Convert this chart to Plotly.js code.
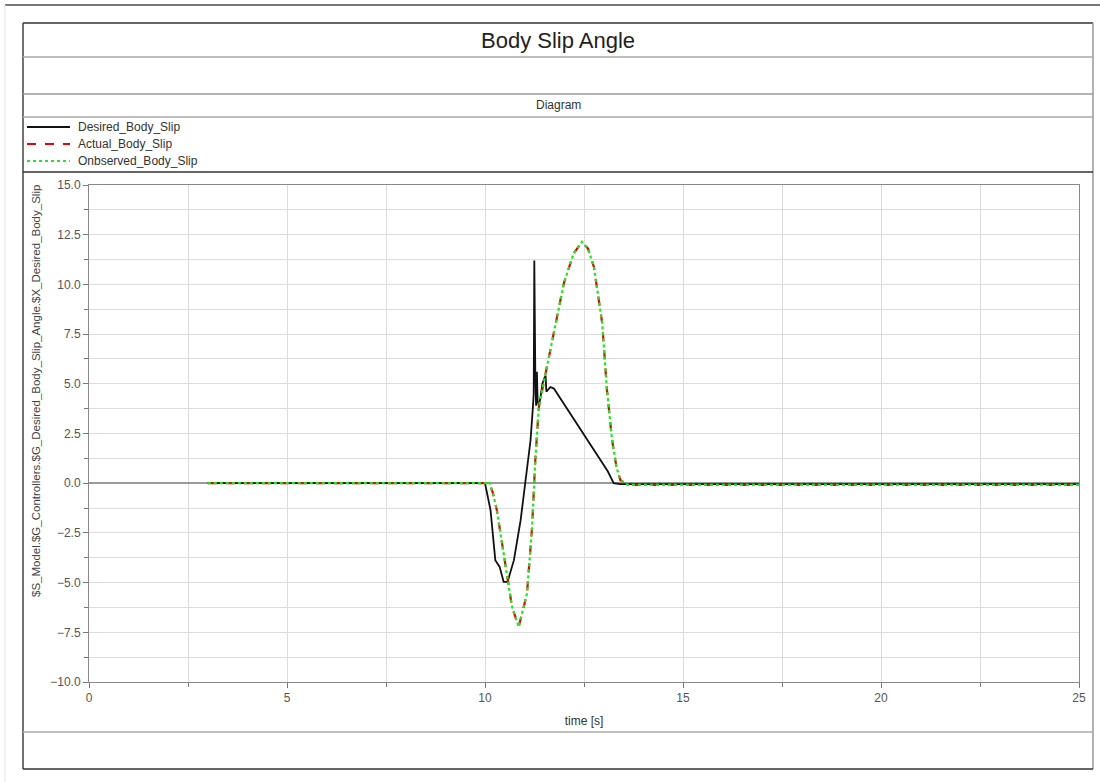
<!DOCTYPE html>
<html>
<head>
<meta charset="utf-8">
<script src="https://cdn.plot.ly/plotly-3.0.1.min.js"></script>
<style>html,body{margin:0;padding:0;background:#fff;}#chart{width:1100px;height:782px;}</style>
</head>
<body>
<div id="chart"></div>
<script>
// ---- data ----
const seriesNames = ["Desired_Body_Slip", "Actual_Body_Slip", "Onbserved_Body_Slip"];

const tDesired = [3, 10.0, 10.14, 10.2, 10.26, 10.37, 10.47, 10.57, 10.73, 10.9, 11.02, 11.08, 11.15, 11.21, 11.23, 11.245, 11.255, 11.27, 11.29, 11.31, 11.33, 11.36, 11.4, 11.45, 11.5, 11.53, 11.55, 11.6, 11.65, 11.74, 11.99, 12.41, 12.92, 13.1, 13.25, 13.42, 25];
const desired  = [0, 0, -1.36, -2.53, -3.87, -4.21, -4.96, -4.96, -3.87, -1.86, 0.15, 1.16, 2.16, 3.84, 4.5, 11.2, 6.2, 5.6, 3.9, 5.6, 4.1, 3.9, 4.3, 5.0, 5.3, 5.4, 4.6, 4.75, 4.84, 4.76, 4.0, 2.67, 1.16, 0.6, 0.0, -0.05, -0.05];

const tActual = [3, 10.05, 10.1, 10.2, 10.3, 10.43, 10.56, 10.68, 10.85, 10.96, 11.06, 11.19, 11.27, 11.36, 11.53, 11.74, 11.99, 12.24, 12.45, 12.6, 12.75, 12.96, 13.08, 13.21, 13.32, 13.42, 13.6, 25];
const actual  = [0, 0, 0.08, -0.5, -1.36, -3.0, -4.88, -6.2, -7.23, -6.4, -5.55, -2.2, 1.16, 3.84, 5.53, 7.54, 10.05, 11.56, 12.14, 11.8, 10.88, 8.04, 4.68, 2.16, 0.8, 0.15, -0.08, -0.08];

const tObserved = [3, 10.05, 10.1, 10.2, 10.3, 10.43, 10.56, 10.68, 10.85, 10.96, 11.06, 11.19, 11.27, 11.36, 11.53, 11.74, 11.99, 12.24, 12.45, 12.6, 12.75, 12.96, 13.08, 13.21, 13.32, 13.42, 13.6, 25];
const observed  = [0, 0, 0.08, -0.5, -1.36, -3.0, -4.88, -6.2, -7.23, -6.4, -5.55, -2.2, 1.16, 3.84, 5.53, 7.54, 10.05, 11.56, 12.14, 11.8, 10.88, 8.04, 4.68, 2.16, 0.8, 0.15, -0.08, -0.08];

const chartTitle = "Body Slip Angle";
const subTitle = "Diagram";
const xTitle = "time [s]";
const yTitle = "$S_Model.$G_Controllers.$G_Desired_Body_Slip_Angle.$X_Desired_Body_Slip";

// ---- layout geometry (pixels) ----
const W = 1100, H = 782;
const L = 89, R = 1079, T = 185, B = 682;
const px = x => (x - L) / (R - L);
const py = y => (B - y) / (B - T);
const FONT = "Liberation Sans, Arial, Helvetica, sans-serif";

function hline(y, x0, x1, color, w, dash) {
  return {type: 'line', xref: 'paper', yref: 'paper', x0: px(x0), x1: px(x1), y0: py(y), y1: py(y), line: {color: color, width: w || 1, dash: dash || 'solid'}, layer: 'above'};
}
function vline(x, y0, y1, color, w) {
  return {type: 'line', xref: 'paper', yref: 'paper', x0: px(x), x1: px(x), y0: py(y0), y1: py(y1), line: {color: color, width: w || 1}, layer: 'above'};
}

const lineStyles = [
  {color: '#111', width: 1.8},
  {color: '#e8000b', width: 2.2, dash: 'dash'},
  {color: '#22e622', width: 2.2, dash: 'dot'}
];

const shapes = [
  hline(5, 5, 1100, '#777', 2),
  vline(5, 5, 782, '#e6e6e6', 1),
  hline(23, 23, 1093, '#333', 1.5),
  vline(23, 23, 769, '#444', 1.5),
  vline(1093, 23, 769, '#999', 1.5),
  hline(769, 23, 1093, '#333', 1.5),
  hline(57, 23, 1093, '#aaa', 1.5),
  hline(94, 23, 1093, '#999', 1.5),
  hline(117, 23, 1093, '#aaa', 1.5),
  hline(172, 23, 1093, '#333', 1.5),
  hline(732, 23, 1093, '#aaa', 1.5)
];

// hand-drawn legend (rows at 127, 144, 161 px)
const legendRows = [127, 144, 161];
const annotations = [
  {text: chartTitle, xref: 'paper', yref: 'paper', x: px(558), y: py(40), xanchor: 'center', yanchor: 'middle', showarrow: false, font: {family: FONT, size: 22, color: '#222'}},
  {text: subTitle, xref: 'paper', yref: 'paper', x: px(558), y: py(105), xanchor: 'center', yanchor: 'middle', showarrow: false, font: {family: FONT, size: 12, color: '#333'}},
  {text: yTitle, xref: 'paper', yref: 'paper', x: px(36), y: py(391), xanchor: 'center', yanchor: 'middle', textangle: -90, showarrow: false, font: {family: FONT, size: 11.5, color: '#444'}}
];
seriesNames.forEach((n, i) => {
  const st = lineStyles[i];
  shapes.push(hline(legendRows[i], 27, 70, st.color, st.width, st.dash === 'dot' ? 'dot' : (st.dash ? 'dash' : 'solid')));
  annotations.push({text: n, xref: 'paper', yref: 'paper', x: px(76), y: py(legendRows[i]), xanchor: 'left', yanchor: 'middle', showarrow: false, font: {family: FONT, size: 12, color: '#333'}});
});

const traces = [
  {x: tDesired, y: desired, name: seriesNames[0], type: 'scatter', mode: 'lines', line: lineStyles[0]},
  {x: tActual, y: actual, name: seriesNames[1], type: 'scatter', mode: 'lines', line: lineStyles[1]},
  {x: tObserved, y: observed, name: seriesNames[2], type: 'scatter', mode: 'lines', line: lineStyles[2]}
];

const layout = {
  width: W, height: H,
  margin: {l: L, r: W - R, t: T, b: H - B, pad: 0},
  paper_bgcolor: '#fff', plot_bgcolor: '#fff',
  font: {family: FONT, size: 12, color: '#444'},
  showlegend: false,
  xaxis: {
    range: [0, 25], dtick: 5, tick0: 0, tickformat: 'd',
    showgrid: true, gridcolor: '#dcdcdc', gridwidth: 1,
    minor: {dtick: 2.5, showgrid: true, gridcolor: '#dcdcdc', ticks: 'outside', ticklen: 4, tickcolor: '#777'},
    ticks: 'outside', ticklen: 5, tickcolor: '#777',
    showline: true, linecolor: '#888', linewidth: 1, mirror: true,
    zeroline: false,
    tickfont: {family: FONT, size: 12, color: '#555'},
    title: {text: xTitle, font: {family: FONT, size: 12, color: '#333'}, standoff: 12}
  },
  yaxis: {
    range: [-10, 15], dtick: 2.5, tick0: 0, tickformat: '.1f',
    showgrid: true, gridcolor: '#dcdcdc', gridwidth: 1,
    minor: {dtick: 1.25, showgrid: true, gridcolor: '#dcdcdc', ticks: 'outside', ticklen: 4, tickcolor: '#777'},
    ticks: 'outside', ticklen: 5, tickcolor: '#777',
    showline: true, linecolor: '#888', linewidth: 1, mirror: true,
    zeroline: true, zerolinecolor: '#999', zerolinewidth: 1.5,
    tickfont: {family: FONT, size: 12, color: '#555'}
  },
  shapes: shapes,
  annotations: annotations
};

Plotly.newPlot('chart', traces, layout, {displayModeBar: false, staticPlot: true});
</script>
</body>
</html>
